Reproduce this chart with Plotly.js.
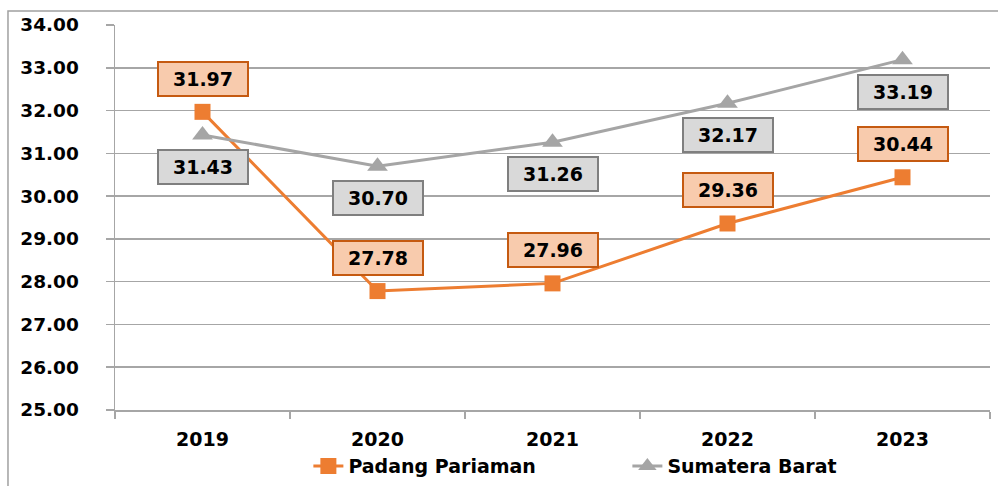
<!DOCTYPE html>
<html>
<head>
<meta charset="utf-8">
<script src="https://cdn.plot.ly/plotly-3.0.1.min.js"></script>
<style>html,body{margin:0;padding:0;background:#fff;}#chart{width:998px;height:486px;}</style>
</head>
<body>
<div id="chart"></div>
<script>
const years = [2019, 2020, 2021, 2022, 2023];
const padangPariaman = [31.97, 27.78, 27.96, 29.36, 30.44];
const sumateraBarat = [31.43, 30.70, 31.26, 32.17, 33.19];
const seriesNames = ['Padang Pariaman', 'Sumatera Barat'];
const yTicks = [25, 26, 27, 28, 29, 30, 31, 32, 33, 34];

const FONT = 'DejaVu Sans, Verdana, sans-serif';
const orange = '#ED7D31';
const gray = '#A5A5A5';

const traces = [
  {
    x: years, y: padangPariaman, name: seriesNames[0], type: 'scatter', mode: 'lines+markers',
    line: {color: orange, width: 3},
    marker: {symbol: 'square', size: 16, color: orange}
  },
  {
    x: years, y: sumateraBarat, name: seriesNames[1], type: 'scatter', mode: 'lines+markers',
    line: {color: gray, width: 3},
    marker: {symbol: 'triangle-up', size: 18, color: gray}
  }
];

const annotations = [];
years.forEach((yr, i) => {
  annotations.push({
    x: yr, y: padangPariaman[i], xref: 'x', yref: 'y',
    text: padangPariaman[i].toFixed(2), showarrow: false, yshift: 33,
    font: {family: FONT, size: 19, color: '#000', weight: 'bold'},
    bgcolor: '#F8CBAD', bordercolor: '#C55A11', borderwidth: 2, borderpad: 1,
    width: 86, height: 30
  });
  annotations.push({
    x: yr, y: sumateraBarat[i], xref: 'x', yref: 'y',
    text: sumateraBarat[i].toFixed(2), showarrow: false, yshift: -32,
    font: {family: FONT, size: 19, color: '#000', weight: 'bold'},
    bgcolor: '#D9D9D9', bordercolor: '#7F7F7F', borderwidth: 2, borderpad: 1,
    width: 86, height: 30
  });
});

const boundaries = [years[0] - 0.5].concat(years.map(y => y + 0.5));

const layout = {
  width: 998, height: 486,
  margin: {l: 115, r: 8, t: 25, b: 76, autoexpand: false},
  paper_bgcolor: '#fff', plot_bgcolor: '#fff',
  font: {family: FONT, size: 18, color: '#000'},
  showlegend: true,
  legend: {
    orientation: 'h', x: 0.221, xanchor: 'left', yref: 'container', y: 0.041, yanchor: 'middle',
    font: {family: FONT, size: 19, color: '#000', weight: 'bold'},
    entrywidth: 274, entrywidthmode: 'pixels', bgcolor: 'rgba(0,0,0,0)'
  },
  xaxis: {
    type: 'linear', range: [boundaries[0], boundaries[boundaries.length - 1]],
    tickvals: years, ticktext: years.map(String), ticks: '', tickangle: 0,
    minor: {tickvals: boundaries, ticks: 'outside', ticklen: 7, tickwidth: 1.5, tickcolor: '#A6A6A6', showgrid: false},
    showline: true, linecolor: '#A6A6A6', linewidth: 1.5,
    showgrid: false, zeroline: false, fixedrange: true, ticklabelstandoff: 12, automargin: false,
    tickfont: {family: FONT, size: 19, color: '#000', weight: 'bold'}
  },
  yaxis: {
    range: [25, 34], tickvals: yTicks, ticktext: yTicks.map(v => v.toFixed(2)),
    ticks: 'outside', ticklen: 8, tickwidth: 1.5, tickcolor: '#A6A6A6',
    showline: true, linecolor: '#A6A6A6', linewidth: 1.5,
    showgrid: true, gridcolor: '#A6A6A6', gridwidth: 1.5, zeroline: false,
    ticklabelstandoff: 23, automargin: false,
    tickfont: {family: FONT, size: 18.5, color: '#000', weight: 'bold'}
  },
  annotations: annotations,
  shapes: [{
    type: 'rect', xref: 'paper', yref: 'paper',
    x0: -0.1223, x1: 1.2, y0: -0.4, y1: 1.0364,
    line: {color: '#A0A0A0', width: 1.5}, fillcolor: 'rgba(0,0,0,0)', layer: 'below'
  }]
};

Plotly.newPlot('chart', traces, layout, {displayModeBar: false, staticPlot: true});
</script>
</body>
</html>
